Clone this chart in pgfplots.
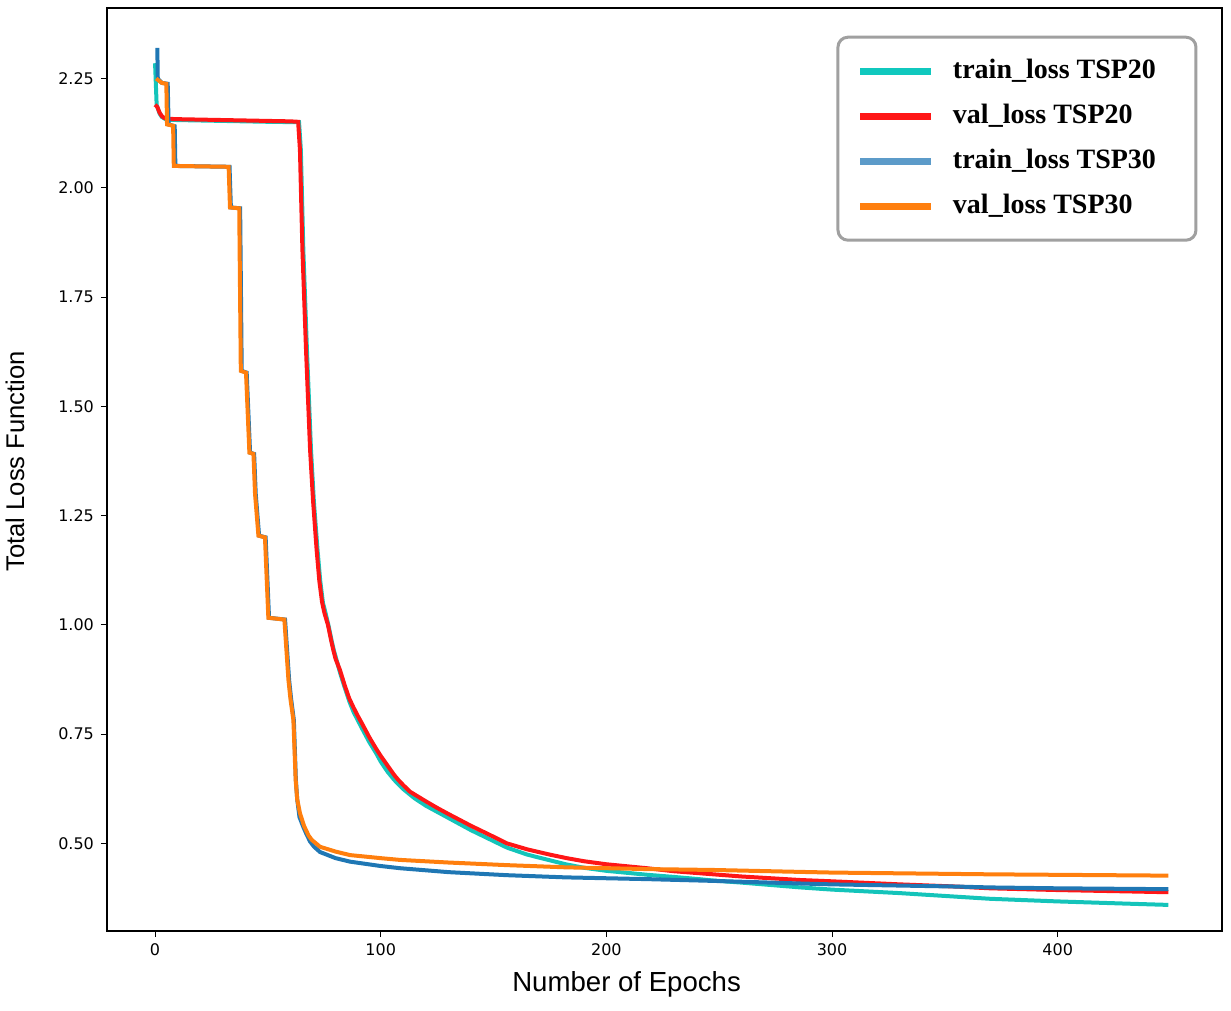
\documentclass[border=0pt]{standalone}
\usepackage{fontspec}
\setmainfont{Liberation Sans}
\newfontfamily\dejavu{DejaVu Sans}
\newfontfamily\timesf{Liberation Serif}
\usepackage{pgfplots}
\pgfplotsset{compat=1.18}
\definecolor{cteal}{RGB}{20,196,186}
\definecolor{cred}{RGB}{255,22,22}
\definecolor{cblue}{RGB}{31,119,180}
\definecolor{corange}{RGB}{255,127,14}
\definecolor{lteal}{RGB}{16,200,190}
\definecolor{lblue}{RGB}{92,155,201}
\begin{document}
\begin{tikzpicture}
\useasboundingbox (-53.5pt,-40pt) rectangle (562pt,465.5pt);
\begin{axis}[
  at={(0,0)}, anchor=south west,
  scale only axis, width=557.5pt, height=461.5pt,
  xmin=-21.3, xmax=472.8, ymin=0.2993, ymax=2.4114,
  xtick={0,100,200,300,400},
  ytick={0.5,0.75,1.0,1.25,1.5,1.75,2.0,2.25},
  yticklabel style={/pgf/number format/.cd, fixed, fixed zerofill, precision=2},
  /pgf/number format/assume math mode=true,
  ticklabel style={font=\dejavu\fontsize{8}{9}\selectfont},
  tick align=outside, major tick length=3pt,
  tick style={black, line width=0.5pt},
  xtick pos=bottom, ytick pos=left,
  axis line style={line width=0.6pt},
  xlabel={Number of Epochs},
  ylabel={Total Loss Function},
  xlabel style={at={(axis description cs:0.466,-0.058)}, anchor=center, font=\fontsize{13.8}{15}\selectfont},
  ylabel style={at={(axis description cs:-0.0825,0.509)}, anchor=center, font=\fontsize{12.8}{14}\selectfont},
  legend style={at={(axis description cs:0.978,0.970)}, anchor=north east,
    draw={rgb,255:red,160;green,160;blue,160}, line width=1.5pt, rounded corners=5pt,
    inner xsep=9.5pt, inner ysep=10.5pt, row sep=9.5pt, column sep=9pt,
    font=\timesf\bfseries\fontsize{14}{16}\selectfont,
    nodes={inner sep=0pt, text height=10pt, text depth=3pt, anchor=base west}},
  legend cell align=left,
  legend image code/.code={\draw[line width=3.5pt, sharp corners] (0pt,3.5pt) -- (35.5pt,3.5pt);},
]
% train_loss TSP20
\addplot[cteal, line width=2pt, forget plot] table {
0 2.285
0.7 2.19
1 2.185
2 2.170
3 2.162
5 2.156
10 2.155
20 2.154
30 2.153
40 2.152
50 2.151
63.8 2.150
64.6 2.087
65.7 1.858
67.3 1.629
69.1 1.400
70.4 1.280
72.0 1.171
73.2 1.100
74.4 1.050
75.4 1.030
77 0.995
78.3 0.962
79.3 0.940
80.5 0.918
82 0.890
84 0.857
86 0.826
88 0.800
90 0.780
92 0.760
95 0.731
98 0.706
100 0.687
103 0.664
106 0.645
110 0.624
115 0.603
120 0.586
125 0.572
130 0.558
140 0.530
150 0.505
156 0.490
165 0.474
175 0.461
182 0.452
190 0.444
200 0.437
218 0.428
230 0.423
241 0.418
247 0.415
260 0.410
286 0.399
300 0.394
330 0.386
370 0.373
400 0.367
430 0.362
449 0.359
};
% val_loss TSP20
\addplot[cred, line width=2pt, forget plot] table {
0 2.190
1 2.185
2 2.172
3 2.164
4 2.160
5 2.158
10 2.157
20 2.156
30 2.155
40 2.154
50 2.153
60 2.152
63.4 2.151
64.2 2.087
65.3 1.858
66.9 1.629
68.7 1.400
70 1.285
71.6 1.171
72.8 1.100
74 1.052
75 1.028
76.6 1.000
78 0.965
79 0.942
80 0.922
81.9 0.897
84 0.862
86 0.832
88 0.810
90 0.790
91.6 0.775
95 0.742
98 0.716
100 0.700
103.4 0.675
106 0.656
107.8 0.645
110 0.633
113 0.618
120 0.596
125 0.581
130 0.567
140 0.540
150 0.515
155.8 0.500
165 0.486
175 0.474
182.4 0.466
190 0.459
200 0.452
217.9 0.443
230 0.436
247.4 0.429
260 0.424
285.8 0.416
300 0.413
330 0.406
355 0.401
370 0.397
400 0.393
430 0.390
449 0.388
};
% train_loss TSP30
\addplot[cblue, line width=2pt, forget plot] table {
1 2.320
1.2 2.250
3 2.240
5.6 2.238
6.0 2.145
8.7 2.141
9.0 2.050
33.0 2.048
33.6 1.955
37.7 1.953
38.4 1.581
40.6 1.577
42.1 1.394
43.9 1.391
44.6 1.300
46.1 1.204
49.0 1.200
50.5 1.016
57.6 1.012
59.4 0.874
60.3 0.830
61.5 0.782
62.4 0.645
63.0 0.600
64.0 0.560
65.5 0.540
67 0.522
68.7 0.504
70.5 0.492
73.1 0.480
80 0.466
86.4 0.458
100 0.448
108.5 0.443
130 0.434
156 0.427
182 0.422
218 0.418
247 0.414
286 0.408
300 0.406
355 0.401
370 0.399
400 0.397
449 0.395
};
% val_loss TSP30
\addplot[corange, line width=2pt, forget plot] table {
0.5 2.250
3 2.240
5 2.238
5.3 2.145
8 2.142
8.3 2.050
32.6 2.048
33.2 1.955
37.3 1.953
38.0 1.581
40.3 1.577
41.8 1.394
43.6 1.391
44.3 1.300
45.8 1.204
48.7 1.200
50.2 1.016
57.3 1.012
59.1 0.874
60.0 0.830
61.3 0.782
62.3 0.645
63.0 0.600
64.2 0.569
66 0.540
68 0.518
69.4 0.508
73.1 0.492
80 0.481
86.4 0.473
100 0.466
108.5 0.462
130 0.456
156 0.450
182 0.445
218 0.441
247 0.439
282 0.435
300 0.433
370 0.429
449 0.426
};
\addlegendimage{lteal}
\addlegendentry{\makebox[112pt][l]{train\_loss TSP20}}
\addlegendimage{cred}
\addlegendentry{\makebox[112pt][l]{val\_loss TSP20}}
\addlegendimage{lblue}
\addlegendentry{\makebox[112pt][l]{train\_loss TSP30}}
\addlegendimage{corange}
\addlegendentry{\makebox[112pt][l]{val\_loss TSP30}}
\end{axis}
\end{tikzpicture}
\end{document}
